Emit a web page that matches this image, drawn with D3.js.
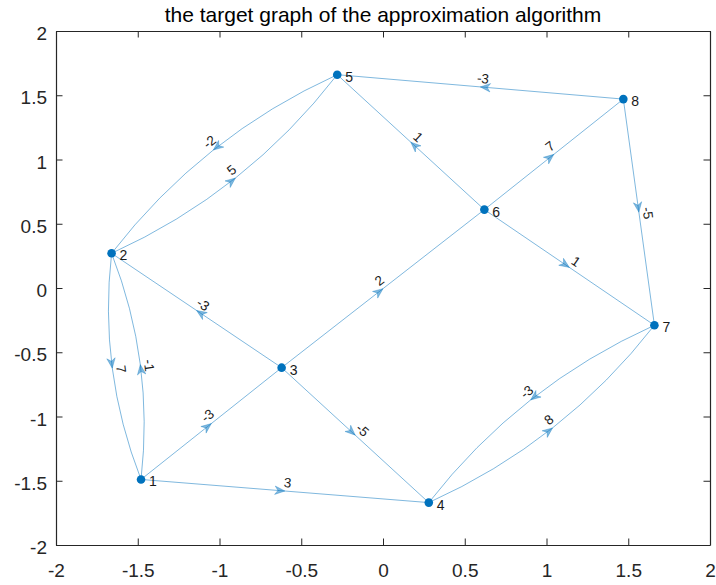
<!DOCTYPE html>
<html>
<head>
<meta charset="utf-8">
<script src="https://cdn.jsdelivr.net/npm/d3@7/dist/d3.min.js"></script>
<style>
  body { margin: 0; background: #fff; }
  svg { display: block; font-family: "Liberation Sans", Arial, sans-serif; }
</style>
</head>
<body>
<svg id="chart" width="716" height="585"></svg>
<script>
// node labels and positions (data units)
var nodeNames = ["1", "2", "3", "4", "5", "6", "7", "8"];
var nodeX = [-1.48, -1.66, -0.62, 0.28, -0.28, 0.62, 1.66, 1.47];
var nodeY = [-1.49, 0.27, -0.62, -1.67, 1.66, 0.61, -0.29, 1.47];

// directed edges
var edgeSource = [1, 1, 1, 2, 2, 3, 3, 3, 4, 5, 6, 6, 6, 7, 8, 8];
var edgeTarget = [2, 3, 4, 1, 5, 2, 4, 6, 7, 2, 5, 7, 8, 4, 5, 7];
var edgeWeight = [-1, -3, 3, 7, 5, -3, -5, 2, 8, -2, 1, 1, 7, -3, -3, -5];

var tickValues = [-2, -1.5, -1, -0.5, 0, 0.5, 1, 1.5, 2];
var titleText = "the target graph of the approximation algorithm";

var SVG = d3.select("#chart");
var mLeft = 56, mRight = 710, mTop = 31, mBottom = 545;
var edgeColor = "#0072BD";

var x = d3.scaleLinear().domain([-2, 2]).range([mLeft, mRight]);
var y = d3.scaleLinear().domain([-2, 2]).range([mBottom, mTop]);

// hyphen minus like matlab
function fmt(d) { return String(d); }

// axes (ticks inward on all four sides, like matlab box on)
var tickLen = 6.5;
SVG.append("g").attr("transform", "translate(0," + mBottom + ")")
   .call(d3.axisBottom(x).tickValues(tickValues).tickSizeInner(-tickLen).tickSizeOuter(0).tickPadding(19).tickFormat(fmt));
SVG.append("g").attr("transform", "translate(" + mLeft + ",0)")
   .call(d3.axisLeft(y).tickValues(tickValues).tickSizeInner(-tickLen).tickSizeOuter(0).tickPadding(9).tickFormat(fmt))
   .selectAll(".tick text").attr("dy", "0.45em");
SVG.append("g").attr("transform", "translate(0," + mTop + ")")
   .call(d3.axisTop(x).tickValues(tickValues).tickSizeInner(-tickLen).tickSizeOuter(0).tickFormat(""));
SVG.append("g").attr("transform", "translate(" + mRight + ",0)")
   .call(d3.axisRight(y).tickValues(tickValues).tickSizeInner(-tickLen).tickSizeOuter(0).tickFormat(""));

SVG.selectAll(".domain").attr("stroke", "#262626").attr("stroke-width", 1.2);
SVG.selectAll(".tick line").attr("stroke", "#262626").attr("stroke-width", 1);
SVG.selectAll(".tick text").attr("font-size", 19).attr("fill", "#262626")
   .attr("font-family", "'Liberation Sans', Arial, sans-serif");

// title
SVG.append("text")
   .attr("x", (mLeft + mRight) / 2).attr("y", 22)
   .attr("text-anchor", "middle").attr("font-size", 21).attr("fill", "#000")
   .text(titleText);

// build edge geometry
var edges = edgeSource.map(function(s, i) {
    return {s: s - 1, t: edgeTarget[i] - 1, w: edgeWeight[i]};
});
function hasReverse(e) {
    return edges.some(function(o) { return o.s == e.t && o.t == e.s; });
}

var bulge = 0.062; // curve offset at the middle, relative to chord length

var gEdges = SVG.append("g");
var gArrows = SVG.append("g");
var gLabels = SVG.append("g");

edges.forEach(function(e) {
    var x0 = x(nodeX[e.s]), y0 = y(nodeY[e.s]);
    var x1 = x(nodeX[e.t]), y1 = y(nodeY[e.t]);
    var dx = x1 - x0, dy = y1 - y0;
    var L = Math.sqrt(dx * dx + dy * dy);
    // right-hand normal in screen coords
    var nx = -dy / L, ny = dx / L;
    var mx, my, path;
    if (hasReverse(e)) {
        var h = bulge * L;
        var cx = (x0 + x1) / 2 + nx * 2 * h, cy = (y0 + y1) / 2 + ny * 2 * h;
        path = "M" + x0 + "," + y0 + " Q" + cx + "," + cy + " " + x1 + "," + y1;
        mx = (x0 + x1) / 2 + nx * h; my = (y0 + y1) / 2 + ny * h;
    } else {
        path = "M" + x0 + "," + y0 + " L" + x1 + "," + y1;
        mx = (x0 + x1) / 2; my = (y0 + y1) / 2;
    }
    gEdges.append("path").attr("d", path)
        .attr("fill", "none").attr("stroke", edgeColor)
        .attr("stroke-opacity", 0.5).attr("stroke-width", 1);

    var ang = Math.atan2(dy, dx) * 180 / Math.PI;
    gArrows.append("path")
        .attr("d", "M0,0 L-10,-4.2 L-7,0 L-10,4.2 Z")
        .attr("transform", "translate(" + mx + "," + my + ") rotate(" + ang + ")")
        .attr("fill", edgeColor).attr("fill-opacity", 0.5)
        .attr("stroke", edgeColor).attr("stroke-opacity", 0.5).attr("stroke-width", 0.6);

    // readable text angle
    var ta = ang;
    if (ta > 90) ta -= 180;
    if (ta < -90) ta += 180;
    gLabels.append("text")
        .attr("transform", "translate(" + mx + "," + my + ") rotate(" + ta + ")")
        .attr("x", 2).attr("y", -4)
        .attr("text-anchor", "middle")
        .attr("font-size", 13.5).attr("fill", "#1a1a1a")
        .text(e.w);
});

// nodes
var nodes = nodeNames.map(function(n, i) { return {name: n, x: nodeX[i], y: nodeY[i]}; });
var gnodes = SVG.append("g").selectAll(".gnode").data(nodes).enter()
    .append("g").attr("class", "gnode")
    .attr("transform", function(d) { return "translate(" + x(d.x) + "," + y(d.y) + ")"; });
gnodes.append("circle").attr("r", 4.3).attr("fill", "#0072BD");
gnodes.append("text").attr("x", 8).attr("y", 7)
    .attr("font-size", 14).attr("fill", "#1a1a1a")
    .text(function(d) { return d.name; });
</script>
</body>
</html>
